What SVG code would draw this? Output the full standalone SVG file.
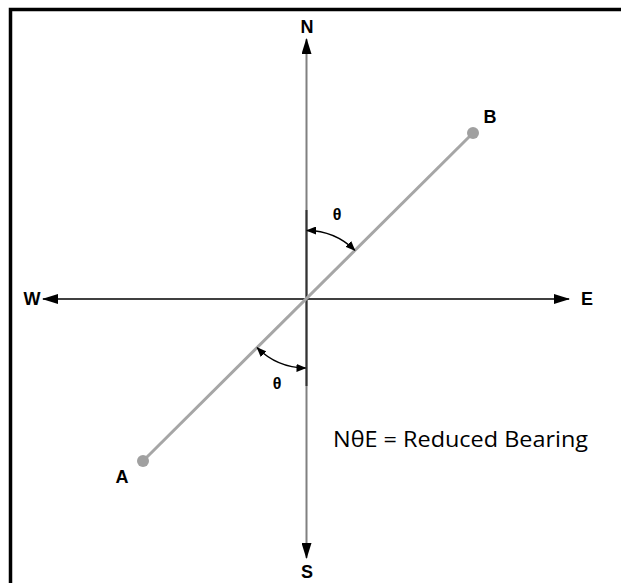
<svg xmlns="http://www.w3.org/2000/svg" width="621" height="583" viewBox="0 0 621 583">
<style>
.lbl{font-family:"Liberation Sans",Arial,sans-serif;font-weight:bold;font-size:18px;fill:#000;text-anchor:middle}
.th{font-family:"Liberation Sans",Arial,sans-serif;font-weight:bold;font-size:16px;fill:#000;text-anchor:middle}
.note{font-family:"Open Sans","Noto Sans",sans-serif;font-size:21px;fill:#000}
</style>
<defs>
<marker id="big" viewBox="0 0 16 10" refX="15" refY="5" markerWidth="16" markerHeight="10" markerUnits="userSpaceOnUse" orient="auto-start-reverse">
<path d="M0,0 L16,5 L0,10 Z" fill="#000"/>
</marker>
<marker id="sm" viewBox="0 0 10 8" refX="9" refY="4" markerWidth="10" markerHeight="8" markerUnits="userSpaceOnUse" orient="auto-start-reverse">
<path d="M0,0 L10,4 L0,8 Z" fill="#000"/>
</marker>
</defs>
<rect width="621" height="583" fill="#fff"/>
<path d="M10.5,583 V9.5 H621" fill="none" stroke="#000" stroke-width="3.5"/>
<g id="connectors">
<line x1="306.5" y1="558" x2="306.5" y2="39" stroke="#808080" stroke-width="2" marker-start="url(#big)" marker-end="url(#big)"/>
<line x1="43" y1="299" x2="569" y2="299" stroke="#000" stroke-width="1.5" marker-start="url(#big)" marker-end="url(#big)"/>
<line x1="306.5" y1="210" x2="306.5" y2="386" stroke="#333" stroke-width="2"/>
<line x1="143" y1="461" x2="473" y2="133" stroke="#a6a6a6" stroke-width="3"/>
<path d="M307,230.5 A69,69 0 0 1 354.8,250.2" fill="none" stroke="#000" stroke-width="1.3" marker-start="url(#sm)" marker-end="url(#sm)"/>
<path d="M257.2,347.8 A69,69 0 0 0 305.5,368" fill="none" stroke="#000" stroke-width="1.3" marker-start="url(#sm)" marker-end="url(#sm)"/>
</g>
<g id="N"><text class="lbl" x="307" y="33">N</text></g>
<g id="S"><text class="lbl" x="307" y="578">S</text></g>
<g id="W"><text class="lbl" x="32" y="305">W</text></g>
<g id="E"><text class="lbl" x="587" y="305">E</text></g>
<g id="A"><circle cx="143" cy="461" r="6" fill="#a0a0a0"/><text class="lbl" x="122" y="483">A</text></g>
<g id="B"><circle cx="473" cy="133" r="6" fill="#a0a0a0"/><text class="lbl" x="490" y="123">B</text></g>
<g id="theta1"><text class="th" x="337" y="220">θ</text></g>
<g id="theta2"><text class="th" x="277" y="389">θ</text></g>
<g id="note"><text class="note" x="333" y="447" textLength="255" lengthAdjust="spacingAndGlyphs">NθE = Reduced Bearing</text></g>
</svg>
